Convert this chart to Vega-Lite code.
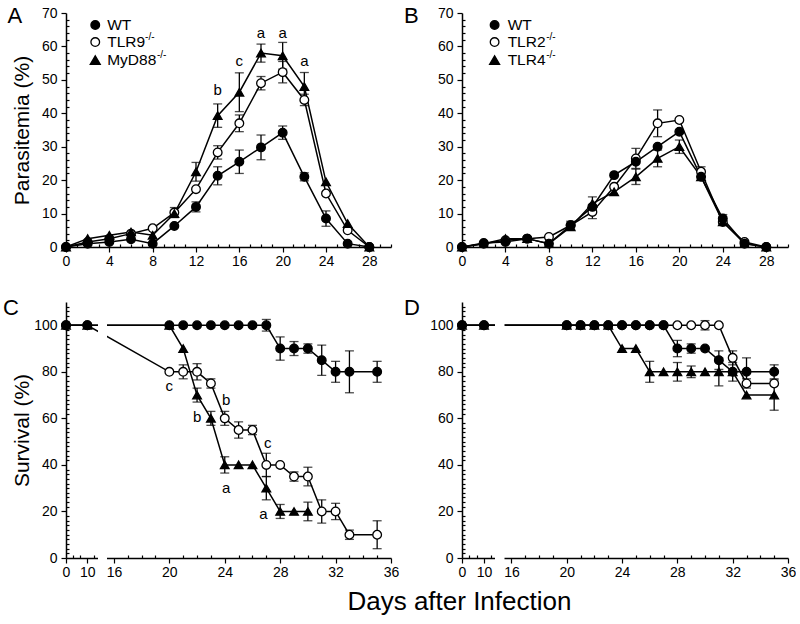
{
 "$schema": "https://vega.github.io/schema/vega-lite/v6.json",
 "background": "white",
 "padding": {"left": 3, "top": 4, "right": 0, "bottom": 0},
 "config": {
  "view": {"stroke": null},
  "font": "Liberation Sans",
  "axis": {"grid": false, "labelFont": "Liberation Sans", "labelFontSize": 14, "labelColor": "black", "tickColor": "black", "tickWidth": 1.2, "domainColor": "black", "domainWidth": 1.5, "titleFont": "Liberation Sans", "titleFontSize": 21, "titleFontWeight": "normal", "titleColor": "black"},
  "text": {"font": "Liberation Sans", "color": "black"}
 },
 "title": {"text": "Days after Infection", "orient": "bottom", "anchor": "middle", "fontSize": 26, "font": "Liberation Sans", "fontWeight": "normal", "color": "black", "offset": 10, "dx": 60},
 "datasets": {
  "A": [
   {"d":0,"g":"K1","v":0,"e":0},{"d":2,"g":"K1","v":1.5,"e":0},{"d":4,"g":"K1","v":2.5,"e":0},{"d":6,"g":"K1","v":4,"e":0},{"d":8,"g":"K1","v":5.6,"e":0},{"d":10,"g":"K1","v":10.3,"e":1.5},{"d":12,"g":"K1","v":17.3,"e":0},{"d":14,"g":"K1","v":28.3,"e":2},{"d":16,"g":"K1","v":37,"e":2.5},{"d":18,"g":"K1","v":49,"e":2},{"d":20,"g":"K1","v":52.3,"e":3.2},{"d":22,"g":"K1","v":44,"e":1.7},{"d":24,"g":"K1","v":16,"e":0},{"d":26,"g":"K1","v":5,"e":0},{"d":28,"g":"K1","v":0,"e":0},
   {"d":0,"g":"K2","v":0,"e":0},{"d":2,"g":"K2","v":2.5,"e":0},{"d":4,"g":"K2","v":3.5,"e":0},{"d":6,"g":"K2","v":4.5,"e":0},{"d":8,"g":"K2","v":3.5,"e":0},{"d":10,"g":"K2","v":10,"e":0},{"d":12,"g":"K2","v":22.5,"e":2.8},{"d":14,"g":"K2","v":39.3,"e":3.5},{"d":16,"g":"K2","v":46.3,"e":5.8},{"d":18,"g":"K2","v":58,"e":2.7},{"d":20,"g":"K2","v":57.2,"e":4},{"d":22,"g":"K2","v":48,"e":4.2},{"d":24,"g":"K2","v":19.5,"e":0},{"d":26,"g":"K2","v":7,"e":0},{"d":28,"g":"K2","v":0,"e":0},
   {"d":0,"g":"WT","v":0,"e":0},{"d":2,"g":"WT","v":1,"e":0},{"d":4,"g":"WT","v":1.5,"e":0},{"d":6,"g":"WT","v":2.3,"e":0},{"d":8,"g":"WT","v":1,"e":0},{"d":10,"g":"WT","v":6.3,"e":0},{"d":12,"g":"WT","v":12,"e":1.5},{"d":14,"g":"WT","v":21.3,"e":2.7},{"d":16,"g":"WT","v":25.5,"e":3.5},{"d":18,"g":"WT","v":29.8,"e":3.7},{"d":20,"g":"WT","v":34.2,"e":2},{"d":22,"g":"WT","v":21,"e":1.2},{"d":24,"g":"WT","v":8.5,"e":2.3},{"d":26,"g":"WT","v":1,"e":0},{"d":28,"g":"WT","v":0,"e":0}
  ],
  "B": [
   {"d":0,"g":"K1","v":0,"e":0},{"d":2,"g":"K1","v":1,"e":0},{"d":4,"g":"K1","v":2,"e":0},{"d":6,"g":"K1","v":2.5,"e":0},{"d":8,"g":"K1","v":3,"e":0},{"d":10,"g":"K1","v":6.5,"e":1.2},{"d":12,"g":"K1","v":10.5,"e":2},{"d":14,"g":"K1","v":18,"e":0},{"d":16,"g":"K1","v":26.5,"e":3},{"d":18,"g":"K1","v":37,"e":4},{"d":20,"g":"K1","v":38,"e":0},{"d":22,"g":"K1","v":22.5,"e":1.5},{"d":24,"g":"K1","v":7.5,"e":0},{"d":26,"g":"K1","v":1.5,"e":0},{"d":28,"g":"K1","v":0,"e":0},
   {"d":0,"g":"K2","v":0,"e":0},{"d":2,"g":"K2","v":1,"e":0},{"d":4,"g":"K2","v":2.5,"e":0},{"d":6,"g":"K2","v":2.5,"e":0},{"d":8,"g":"K2","v":1,"e":0},{"d":10,"g":"K2","v":6,"e":0},{"d":12,"g":"K2","v":13,"e":2},{"d":14,"g":"K2","v":16.5,"e":0},{"d":16,"g":"K2","v":21,"e":2.3},{"d":18,"g":"K2","v":26.5,"e":2.5},{"d":20,"g":"K2","v":30,"e":2},{"d":22,"g":"K2","v":21,"e":0},{"d":24,"g":"K2","v":7.5,"e":0},{"d":26,"g":"K2","v":1,"e":0},{"d":28,"g":"K2","v":0,"e":0},
   {"d":0,"g":"WT","v":0,"e":0},{"d":2,"g":"WT","v":1.2,"e":0},{"d":4,"g":"WT","v":1.5,"e":0},{"d":6,"g":"WT","v":2.5,"e":0},{"d":8,"g":"WT","v":1,"e":0},{"d":10,"g":"WT","v":6.5,"e":0},{"d":12,"g":"WT","v":12,"e":0},{"d":14,"g":"WT","v":21.5,"e":0},{"d":16,"g":"WT","v":25.5,"e":0},{"d":18,"g":"WT","v":30,"e":0},{"d":20,"g":"WT","v":34.5,"e":0},{"d":22,"g":"WT","v":21,"e":0},{"d":24,"g":"WT","v":8.5,"e":1.2},{"d":26,"g":"WT","v":1,"e":0},{"d":28,"g":"WT","v":0,"e":0}
  ],
  "C": [
   {"d":0,"g":"K1","v":100,"e":0},{"d":10,"g":"K1","v":100,"e":0},{"d":20,"g":"K1","v":80,"e":0},{"d":21,"g":"K1","v":80,"e":3},{"d":22,"g":"K1","v":80,"e":3.5},{"d":23,"g":"K1","v":75,"e":2},{"d":24,"g":"K1","v":60,"e":3},{"d":25,"g":"K1","v":55,"e":3.5},{"d":26,"g":"K1","v":55,"e":2},{"d":27,"g":"K1","v":40,"e":5},{"d":28,"g":"K1","v":40,"e":0},{"d":29,"g":"K1","v":35,"e":2},{"d":30,"g":"K1","v":35,"e":4},{"d":31,"g":"K1","v":20,"e":5},{"d":32,"g":"K1","v":20,"e":3.5},{"d":33,"g":"K1","v":10,"e":2},{"d":35,"g":"K1","v":10,"e":6},
   {"d":0,"g":"K2","v":100,"e":0},{"d":10,"g":"K2","v":100,"e":0},{"d":20,"g":"K2","v":100,"e":0},{"d":21,"g":"K2","v":90,"e":0},{"d":22,"g":"K2","v":70,"e":3},{"d":23,"g":"K2","v":60,"e":3},{"d":24,"g":"K2","v":40,"e":3.5},{"d":25,"g":"K2","v":40,"e":0},{"d":26,"g":"K2","v":40,"e":0},{"d":27,"g":"K2","v":30,"e":5},{"d":28,"g":"K2","v":20,"e":3},{"d":29,"g":"K2","v":20,"e":0},{"d":30,"g":"K2","v":20,"e":4},
   {"d":0,"g":"WT","v":100,"e":0},{"d":10,"g":"WT","v":100,"e":0},{"d":20,"g":"WT","v":100,"e":0},{"d":21,"g":"WT","v":100,"e":0},{"d":22,"g":"WT","v":100,"e":0},{"d":23,"g":"WT","v":100,"e":0},{"d":24,"g":"WT","v":100,"e":0},{"d":25,"g":"WT","v":100,"e":0},{"d":26,"g":"WT","v":100,"e":0},{"d":27,"g":"WT","v":100,"e":2.5},{"d":28,"g":"WT","v":90,"e":5},{"d":29,"g":"WT","v":90,"e":3},{"d":30,"g":"WT","v":90,"e":2},{"d":31,"g":"WT","v":85,"e":6.5},{"d":32,"g":"WT","v":80,"e":4.5},{"d":33,"g":"WT","v":80,"e":9},{"d":35,"g":"WT","v":80,"e":4.5}
  ],
  "D": [
   {"d":0,"g":"K1","v":100,"e":0},{"d":10,"g":"K1","v":100,"e":0},{"d":20,"g":"K1","v":100,"e":0},{"d":21,"g":"K1","v":100,"e":0},{"d":22,"g":"K1","v":100,"e":0},{"d":23,"g":"K1","v":100,"e":0},{"d":24,"g":"K1","v":100,"e":0},{"d":25,"g":"K1","v":100,"e":0},{"d":26,"g":"K1","v":100,"e":0},{"d":27,"g":"K1","v":100,"e":0},{"d":28,"g":"K1","v":100,"e":0},{"d":29,"g":"K1","v":100,"e":0},{"d":30,"g":"K1","v":100,"e":2},{"d":31,"g":"K1","v":100,"e":0},{"d":32,"g":"K1","v":86,"e":3},{"d":33,"g":"K1","v":75,"e":2},{"d":35,"g":"K1","v":75,"e":0},
   {"d":0,"g":"K2","v":100,"e":0},{"d":10,"g":"K2","v":100,"e":0},{"d":20,"g":"K2","v":100,"e":0},{"d":21,"g":"K2","v":100,"e":0},{"d":22,"g":"K2","v":100,"e":0},{"d":23,"g":"K2","v":100,"e":0},{"d":24,"g":"K2","v":90,"e":0},{"d":25,"g":"K2","v":90,"e":0},{"d":26,"g":"K2","v":80,"e":4.5},{"d":27,"g":"K2","v":80,"e":0},{"d":28,"g":"K2","v":80,"e":4},{"d":29,"g":"K2","v":80,"e":2.5},{"d":30,"g":"K2","v":80,"e":0},{"d":31,"g":"K2","v":80,"e":6},{"d":32,"g":"K2","v":80,"e":0},{"d":33,"g":"K2","v":70,"e":0},{"d":35,"g":"K2","v":70,"e":6.5},
   {"d":0,"g":"WT","v":100,"e":0},{"d":10,"g":"WT","v":100,"e":0},{"d":20,"g":"WT","v":100,"e":0},{"d":21,"g":"WT","v":100,"e":0},{"d":22,"g":"WT","v":100,"e":0},{"d":23,"g":"WT","v":100,"e":0},{"d":24,"g":"WT","v":100,"e":0},{"d":25,"g":"WT","v":100,"e":0},{"d":26,"g":"WT","v":100,"e":0},{"d":27,"g":"WT","v":100,"e":0},{"d":28,"g":"WT","v":90,"e":3.5},{"d":29,"g":"WT","v":90,"e":2},{"d":30,"g":"WT","v":90,"e":0},{"d":31,"g":"WT","v":85,"e":4},{"d":32,"g":"WT","v":80,"e":4},{"d":33,"g":"WT","v":80,"e":6},{"d":35,"g":"WT","v":80,"e":3}
  ],
  "annA": [{"d":14,"v":47,"t":"b"},{"d":16,"v":55.6,"t":"c"},{"d":18,"v":63.9,"t":"a"},{"d":20,"v":63.9,"t":"a"},{"d":22,"v":55.6,"t":"a"}],
  "annC": [{"d":20,"v":74,"t":"c"},{"d":24.1,"v":67.8,"t":"b"},{"d":22,"v":60.5,"t":"b"},{"d":27.1,"v":49.5,"t":"c"},{"d":24.1,"v":30.2,"t":"a"},{"d":26.8,"v":19,"t":"a"}]
 },
 "columns": 2,
 "spacing": {"row": 29, "column": 4},
 "align": "each",
 "concat": [
  {
   "width": 325, "height": 234,
   "data": {"name": "A"},
   "resolve": {"axis": {"x": "independent", "y": "independent"}},
   "layer": [
    {"mark": {"type": "line", "color": "black", "strokeWidth": 1.5},
     "encoding": {
      "x": {"field": "d", "type": "quantitative", "scale": {"domain": [0, 30], "nice": false, "zero": false},
            "axis": {"orient": "bottom", "values": [0,4,8,12,16,20,24,28], "title": null, "tickSize": 5, "labelPadding": 2, "labelFlush": false, "labelOverlap": false}},
      "y": {"field": "v", "type": "quantitative", "scale": {"domain": [0, 70], "nice": false},
            "axis": {"orient": "left", "values": [0,10,20,30,40,50,60,70], "title": "Parasitemia (%)", "tickSize": 5, "labelPadding": 4, "titlePadding": 2, "minExtent": 32, "maxExtent": 32}},
      "detail": {"field": "g", "type": "nominal"}}},
    {"mark": {"type": "point", "opacity": 0},
     "encoding": {
      "x": {"field": "d", "type": "quantitative", "axis": {"orient": "bottom", "values": [1,2,3,5,6,7,9,10,11,13,14,15,17,18,19,21,22,23,25,26,27,29,30], "labels": false, "domain": false, "tickSize": -3, "title": null}},
      "y": {"field": "v", "type": "quantitative", "axis": {"orient": "left", "values": [2,4,6,8,12,14,16,18,22,24,26,28,32,34,36,38,42,44,46,48,52,54,56,58,62,64,66,68], "labels": false, "domain": false, "tickSize": -3, "title": null}}}},
    {"transform": [{"filter": "datum.e > 0"}],
     "mark": {"type": "errorbar", "ticks": {"size": 9}, "color": "black", "thickness": 1.3},
     "encoding": {"x": {"field": "d", "type": "quantitative", "axis": null}, "y": {"field": "v", "type": "quantitative", "axis": null}, "yError": {"field": "e"}}},
    {"mark": {"type": "point", "filled": true, "opacity": 1, "stroke": "black", "strokeWidth": 1.3},
     "encoding": {
      "x": {"field": "d", "type": "quantitative", "axis": null},
      "y": {"field": "v", "type": "quantitative", "axis": null},
      "shape": {"field": "g", "type": "nominal", "scale": {"domain": ["WT","K1","K2"], "range": ["circle","circle","triangle-up"]}, "legend": null},
      "fill": {"field": "g", "type": "nominal", "scale": {"domain": ["WT","K1","K2"], "range": ["black","white","black"]}, "legend": null},
      "size": {"field": "g", "type": "ordinal", "scale": {"domain": ["WT","K1","K2"], "range": [75,75,100]}, "legend": null}}},
    {"data": {"name": "annA"},
     "mark": {"type": "text", "fontSize": 15, "align": "center", "baseline": "middle"},
     "encoding": {"x": {"field": "d", "type": "quantitative", "axis": null}, "y": {"field": "v", "type": "quantitative", "axis": null}, "text": {"field": "t"}}},
    {"data": {"values": [{}]},
     "layer": [
      {"mark": {"type": "point", "shape": "circle", "filled": true, "fill": "black", "stroke": "black", "strokeWidth": 1.3, "size": 75, "opacity": 1},
       "encoding": {"x": {"datum": 2.7, "type": "quantitative", "axis": null}, "y": {"datum": 66.4, "type": "quantitative", "axis": null}}},
      {"mark": {"type": "point", "shape": "circle", "filled": true, "fill": "white", "stroke": "black", "strokeWidth": 1.3, "size": 75, "opacity": 1},
       "encoding": {"x": {"datum": 2.7, "type": "quantitative", "axis": null}, "y": {"datum": 61.3, "type": "quantitative", "axis": null}}},
      {"mark": {"type": "point", "shape": "triangle-up", "filled": true, "fill": "black", "stroke": "black", "strokeWidth": 1.3, "size": 100, "opacity": 1},
       "encoding": {"x": {"datum": 2.7, "type": "quantitative", "axis": null}, "y": {"datum": 55.9, "type": "quantitative", "axis": null}}},
      {"mark": {"type": "text", "text": "WT", "align": "left", "baseline": "middle", "fontSize": 15.5},
       "encoding": {"x": {"datum": 3.8, "type": "quantitative", "axis": null}, "y": {"datum": 66.4, "type": "quantitative", "axis": null}}},
      {"mark": {"type": "text", "text": "TLR9", "align": "left", "baseline": "middle", "fontSize": 15.5},
       "encoding": {"x": {"datum": 3.8, "type": "quantitative", "axis": null}, "y": {"datum": 61.3, "type": "quantitative", "axis": null}}},
      {"mark": {"type": "text", "text": "MyD88", "align": "left", "baseline": "middle", "fontSize": 15.5},
       "encoding": {"x": {"datum": 3.8, "type": "quantitative", "axis": null}, "y": {"datum": 55.9, "type": "quantitative", "axis": null}}},
      {"mark": {"type": "text", "text": "-/-", "align": "left", "baseline": "middle", "fontSize": 10, "dy": -5},
       "encoding": {"x": {"datum": 7.3, "type": "quantitative", "axis": null}, "y": {"datum": 61.3, "type": "quantitative", "axis": null}}},
      {"mark": {"type": "text", "text": "-/-", "align": "left", "baseline": "middle", "fontSize": 10, "dy": -5},
       "encoding": {"x": {"datum": 8.4, "type": "quantitative", "axis": null}, "y": {"datum": 55.9, "type": "quantitative", "axis": null}}},
      {"mark": {"type": "text", "text": "A", "align": "left", "baseline": "middle", "fontSize": 22},
       "encoding": {"x": {"datum": -5.4, "type": "quantitative", "axis": null}, "y": {"datum": 69.2, "type": "quantitative", "axis": null}}}
     ]}
   ]
  },
  {
   "width": 326, "height": 234,
   "data": {"name": "B"},
   "resolve": {"axis": {"x": "independent", "y": "independent"}},
   "layer": [
    {"mark": {"type": "line", "color": "black", "strokeWidth": 1.5},
     "encoding": {
      "x": {"field": "d", "type": "quantitative", "scale": {"domain": [0, 30], "nice": false, "zero": false},
            "axis": {"orient": "bottom", "values": [0,4,8,12,16,20,24,28], "title": null, "tickSize": 5, "labelPadding": 2, "labelFlush": false, "labelOverlap": false}},
      "y": {"field": "v", "type": "quantitative", "scale": {"domain": [0, 70], "nice": false},
            "axis": {"orient": "left", "values": [0,10,20,30,40,50,60,70], "title": null, "tickSize": 5, "labelPadding": 4}},
      "detail": {"field": "g", "type": "nominal"}}},
    {"mark": {"type": "point", "opacity": 0},
     "encoding": {
      "x": {"field": "d", "type": "quantitative", "axis": {"orient": "bottom", "values": [1,2,3,5,6,7,9,10,11,13,14,15,17,18,19,21,22,23,25,26,27,29,30], "labels": false, "domain": false, "tickSize": -3, "title": null}},
      "y": {"field": "v", "type": "quantitative", "axis": {"orient": "left", "values": [2,4,6,8,12,14,16,18,22,24,26,28,32,34,36,38,42,44,46,48,52,54,56,58,62,64,66,68], "labels": false, "domain": false, "tickSize": -3, "title": null}}}},
    {"transform": [{"filter": "datum.e > 0"}],
     "mark": {"type": "errorbar", "ticks": {"size": 9}, "color": "black", "thickness": 1.3},
     "encoding": {"x": {"field": "d", "type": "quantitative", "axis": null}, "y": {"field": "v", "type": "quantitative", "axis": null}, "yError": {"field": "e"}}},
    {"mark": {"type": "point", "filled": true, "opacity": 1, "stroke": "black", "strokeWidth": 1.3},
     "encoding": {
      "x": {"field": "d", "type": "quantitative", "axis": null},
      "y": {"field": "v", "type": "quantitative", "axis": null},
      "shape": {"field": "g", "type": "nominal", "scale": {"domain": ["WT","K1","K2"], "range": ["circle","circle","triangle-up"]}, "legend": null},
      "fill": {"field": "g", "type": "nominal", "scale": {"domain": ["WT","K1","K2"], "range": ["black","white","black"]}, "legend": null},
      "size": {"field": "g", "type": "ordinal", "scale": {"domain": ["WT","K1","K2"], "range": [75,75,100]}, "legend": null}}},
    {"data": {"values": [{}]},
     "layer": [
      {"mark": {"type": "point", "shape": "circle", "filled": true, "fill": "black", "stroke": "black", "strokeWidth": 1.3, "size": 75, "opacity": 1},
       "encoding": {"x": {"datum": 3.0, "type": "quantitative", "axis": null}, "y": {"datum": 66.4, "type": "quantitative", "axis": null}}},
      {"mark": {"type": "point", "shape": "circle", "filled": true, "fill": "white", "stroke": "black", "strokeWidth": 1.3, "size": 75, "opacity": 1},
       "encoding": {"x": {"datum": 3.0, "type": "quantitative", "axis": null}, "y": {"datum": 61.3, "type": "quantitative", "axis": null}}},
      {"mark": {"type": "point", "shape": "triangle-up", "filled": true, "fill": "black", "stroke": "black", "strokeWidth": 1.3, "size": 100, "opacity": 1},
       "encoding": {"x": {"datum": 3.0, "type": "quantitative", "axis": null}, "y": {"datum": 55.9, "type": "quantitative", "axis": null}}},
      {"mark": {"type": "text", "text": "WT", "align": "left", "baseline": "middle", "fontSize": 15.5},
       "encoding": {"x": {"datum": 4.2, "type": "quantitative", "axis": null}, "y": {"datum": 66.4, "type": "quantitative", "axis": null}}},
      {"mark": {"type": "text", "text": "TLR2", "align": "left", "baseline": "middle", "fontSize": 15.5},
       "encoding": {"x": {"datum": 4.2, "type": "quantitative", "axis": null}, "y": {"datum": 61.3, "type": "quantitative", "axis": null}}},
      {"mark": {"type": "text", "text": "TLR4", "align": "left", "baseline": "middle", "fontSize": 15.5},
       "encoding": {"x": {"datum": 4.2, "type": "quantitative", "axis": null}, "y": {"datum": 55.9, "type": "quantitative", "axis": null}}},
      {"mark": {"type": "text", "text": "-/-", "align": "left", "baseline": "middle", "fontSize": 10, "dy": -5},
       "encoding": {"x": {"datum": 7.75, "type": "quantitative", "axis": null}, "y": {"datum": 61.3, "type": "quantitative", "axis": null}}},
      {"mark": {"type": "text", "text": "-/-", "align": "left", "baseline": "middle", "fontSize": 10, "dy": -5},
       "encoding": {"x": {"datum": 7.75, "type": "quantitative", "axis": null}, "y": {"datum": 55.9, "type": "quantitative", "axis": null}}},
      {"mark": {"type": "text", "text": "B", "align": "left", "baseline": "middle", "fontSize": 22},
       "encoding": {"x": {"datum": -5.33, "type": "quantitative", "axis": null}, "y": {"datum": 69.2, "type": "quantitative", "axis": null}}}
     ]}
   ]
  },
  {
   "width": 325, "height": 256,
   "data": {"name": "C"},
   "resolve": {"axis": {"x": "independent", "y": "independent"}},
   "layer": [
    {"mark": {"type": "line", "color": "black", "strokeWidth": 1.5},
     "encoding": {
      "x": {"field": "d", "type": "quantitative", "scale": {"domain": [0, 15, 15.5, 36], "range": [0, 32, 41, 325], "nice": false, "zero": false},
            "axis": {"orient": "bottom", "values": [0,10,16,20,24,28,32,36], "title": null, "tickSize": 5, "labelPadding": 2, "labelFlush": false, "labelOverlap": false}},
      "y": {"field": "v", "type": "quantitative", "scale": {"domain": [0, 110], "nice": false},
            "axis": {"orient": "left", "values": [0,20,40,60,80,100], "title": "Survival (%)", "tickSize": 5, "labelPadding": 4, "titlePadding": 2, "minExtent": 32, "maxExtent": 32}},
      "detail": {"field": "g", "type": "nominal"}}},
    {"mark": {"type": "point", "opacity": 0},
     "encoding": {
      "x": {"field": "d", "type": "quantitative", "axis": {"orient": "bottom", "values": [3.33,6.67,13.33,17,18,19,21,22,23,25,26,27,29,30,31,33,34,35], "labels": false, "domain": false, "tickSize": -3, "title": null}},
      "y": {"field": "v", "type": "quantitative", "axis": {"orient": "left", "values": [2,4,6,8,10,12,14,16,18,22,24,26,28,30,32,34,36,38,42,44,46,48,50,52,54,56,58,62,64,66,68,70,72,74,76,78,82,84,86,88,90,92,94,96,98,102,104,106,108], "labels": false, "domain": false, "tickSize": -3, "title": null}}}},
    {"data": {"values": [{}]},
     "mark": {"type": "rect", "fill": "white", "clip": false},
     "encoding": {"x": {"datum": 15, "type": "quantitative", "axis": null}, "x2": {"datum": 15.5}, "y": {"datum": -2, "type": "quantitative", "axis": null}, "y2": {"datum": 110}}},
    {"transform": [{"filter": "datum.e > 0"}],
     "mark": {"type": "errorbar", "ticks": {"size": 9}, "color": "black", "thickness": 1.3},
     "encoding": {"x": {"field": "d", "type": "quantitative", "axis": null}, "y": {"field": "v", "type": "quantitative", "axis": null}, "yError": {"field": "e"}}},
    {"mark": {"type": "point", "filled": true, "opacity": 1, "stroke": "black", "strokeWidth": 1.3},
     "encoding": {
      "x": {"field": "d", "type": "quantitative", "axis": null},
      "y": {"field": "v", "type": "quantitative", "axis": null},
      "shape": {"field": "g", "type": "nominal", "scale": {"domain": ["WT","K1","K2"], "range": ["circle","circle","triangle-up"]}, "legend": null},
      "fill": {"field": "g", "type": "nominal", "scale": {"domain": ["WT","K1","K2"], "range": ["black","white","black"]}, "legend": null},
      "size": {"field": "g", "type": "ordinal", "scale": {"domain": ["WT","K1","K2"], "range": [75,75,100]}, "legend": null}}},
    {"data": {"name": "annC"},
     "mark": {"type": "text", "fontSize": 15, "align": "center", "baseline": "middle"},
     "encoding": {"x": {"field": "d", "type": "quantitative", "axis": null}, "y": {"field": "v", "type": "quantitative", "axis": null}, "text": {"field": "t"}}},
    {"data": {"values": [{}]},
     "mark": {"type": "text", "text": "C", "align": "left", "baseline": "middle", "fontSize": 22},
     "encoding": {"x": {"datum": -29.5, "type": "quantitative", "axis": null}, "y": {"datum": 107.3, "type": "quantitative", "axis": null}}}
   ]
  },
  {
   "width": 326, "height": 256,
   "data": {"name": "D"},
   "resolve": {"axis": {"x": "independent", "y": "independent"}},
   "layer": [
    {"mark": {"type": "line", "color": "black", "strokeWidth": 1.5},
     "encoding": {
      "x": {"field": "d", "type": "quantitative", "scale": {"domain": [0, 15, 15.5, 36], "range": [0, 33, 42.5, 326], "nice": false, "zero": false},
            "axis": {"orient": "bottom", "values": [0,10,16,20,24,28,32,36], "title": null, "tickSize": 5, "labelPadding": 2, "labelFlush": false, "labelOverlap": false}},
      "y": {"field": "v", "type": "quantitative", "scale": {"domain": [0, 110], "nice": false},
            "axis": {"orient": "left", "values": [0,20,40,60,80,100], "title": null, "tickSize": 5, "labelPadding": 4}},
      "detail": {"field": "g", "type": "nominal"}}},
    {"mark": {"type": "point", "opacity": 0},
     "encoding": {
      "x": {"field": "d", "type": "quantitative", "axis": {"orient": "bottom", "values": [3.33,6.67,13.33,17,18,19,21,22,23,25,26,27,29,30,31,33,34,35], "labels": false, "domain": false, "tickSize": -3, "title": null}},
      "y": {"field": "v", "type": "quantitative", "axis": {"orient": "left", "values": [2,4,6,8,10,12,14,16,18,22,24,26,28,30,32,34,36,38,42,44,46,48,50,52,54,56,58,62,64,66,68,70,72,74,76,78,82,84,86,88,90,92,94,96,98,102,104,106,108], "labels": false, "domain": false, "tickSize": -3, "title": null}}}},
    {"data": {"values": [{}]},
     "mark": {"type": "rect", "fill": "white", "clip": false},
     "encoding": {"x": {"datum": 15, "type": "quantitative", "axis": null}, "x2": {"datum": 15.5}, "y": {"datum": -2, "type": "quantitative", "axis": null}, "y2": {"datum": 110}}},
    {"transform": [{"filter": "datum.e > 0"}],
     "mark": {"type": "errorbar", "ticks": {"size": 9}, "color": "black", "thickness": 1.3},
     "encoding": {"x": {"field": "d", "type": "quantitative", "axis": null}, "y": {"field": "v", "type": "quantitative", "axis": null}, "yError": {"field": "e"}}},
    {"mark": {"type": "point", "filled": true, "opacity": 1, "stroke": "black", "strokeWidth": 1.3},
     "encoding": {
      "x": {"field": "d", "type": "quantitative", "axis": null},
      "y": {"field": "v", "type": "quantitative", "axis": null},
      "shape": {"field": "g", "type": "nominal", "scale": {"domain": ["WT","K1","K2"], "range": ["circle","circle","triangle-up"]}, "legend": null},
      "fill": {"field": "g", "type": "nominal", "scale": {"domain": ["WT","K1","K2"], "range": ["black","white","black"]}, "legend": null},
      "size": {"field": "g", "type": "ordinal", "scale": {"domain": ["WT","K1","K2"], "range": [75,75,100]}, "legend": null}}},
    {"data": {"values": [{}]},
     "mark": {"type": "text", "text": "D", "align": "left", "baseline": "middle", "fontSize": 22},
     "encoding": {"x": {"datum": -26.4, "type": "quantitative", "axis": null}, "y": {"datum": 107.3, "type": "quantitative", "axis": null}}}
   ]
  }
 ]
}
